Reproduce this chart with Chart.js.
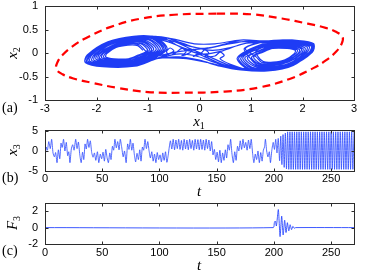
<!DOCTYPE html>
<html><head><meta charset="utf-8">
<script src="https://cdn.jsdelivr.net/npm/chart.js@4.4.1/dist/chart.umd.min.js"></script>
<style>
html,body{margin:0;padding:0;background:#fff;}
#wrap{position:relative;width:374px;height:272px;overflow:hidden;background:#fff;}
canvas{position:absolute;left:0;top:0;}
.lbl{position:absolute;font-family:'Liberation Serif','DejaVu Serif',serif;font-size:15px;line-height:1;color:#000;white-space:nowrap;transform:translate(-50%,-50%);}
.lbl i{font-style:italic;}
.lbl sub{font-size:10px;font-style:normal;vertical-align:-3px;line-height:0;}
.rot{transform:translate(-50%,-50%) rotate(-90deg);}
.pan{position:absolute;font-family:'Liberation Serif','DejaVu Serif',serif;font-size:14px;line-height:1;color:#000;transform:translateY(-50%);}
</style></head><body>
<div id="wrap">
<canvas id="ca" width="374" height="272"></canvas>
<canvas id="cb" width="374" height="272"></canvas>
<canvas id="cc" width="374" height="272"></canvas>
<div class="lbl" style="left:199px;top:121px"><i>x</i><sub>1</sub></div>
<div class="lbl rot" style="left:12px;top:53px"><i>x</i><sub>2</sub></div>
<div class="pan" style="left:2px;top:108px">(a)</div>
<div class="lbl rot" style="left:12px;top:150px"><i>x</i><sub>3</sub></div>
<div class="lbl" style="left:199px;top:191px"><i>t</i></div>
<div class="pan" style="left:2px;top:178px">(b)</div>
<div class="lbl rot" style="left:12px;top:223px"><i>F</i><sub>3</sub></div>
<div class="lbl" style="left:199px;top:265px"><i>t</i></div>
<div class="pan" style="left:2px;top:251px">(c)</div>
</div>
<script>
// ---------- data ----------
const xTicksA = [-3,-2,-1,0,1,2,3];
const yTicksA = [-1,-0.5,0,0.5,1];
const xTicksT = [0,50,100,150,200,250];
const yTicksB = [-5,0,5];
const yTicksC = [-2,0,2];

// phase portrait (x1, x2) trajectory
const x1x2Path = [
[-1.10,0.06],[-1.20,0.16],[-1.39,0.17],[-1.62,0.12],[-1.80,-0.01],[-1.82,-0.08],[-1.66,-0.12],[-1.38,-0.12],[-1.19,-0.04],
[-1.01,0.06],[-1.14,0.20],[-1.37,0.21],[-1.65,0.14],[-1.87,-0.01],[-1.90,-0.10],[-1.70,-0.15],[-1.36,-0.15],[-1.12,-0.06],
[-0.93,0.07],[-1.08,0.23],[-1.35,0.24],[-1.68,0.16],[-1.94,-0.02],[-1.97,-0.12],[-1.74,-0.18],[-1.34,-0.18],[-1.06,-0.07],
[-0.84,0.08],[-1.02,0.26],[-1.33,0.28],[-1.71,0.19],[-2.01,-0.03],[-2.05,-0.15],[-1.78,-0.21],[-1.32,-0.21],[-0.99,-0.09],
[-0.76,0.09],[-0.95,0.29],[-1.31,0.31],[-1.74,0.21],[-2.08,-0.03],[-2.13,-0.17],[-1.82,-0.24],[-1.29,-0.24],[-0.93,-0.10],
[-0.69,0.09],[-0.90,0.32],[-1.29,0.34],[-1.76,0.22],[-2.13,-0.04],[-2.19,-0.19],[-1.85,-0.27],[-1.28,-0.26],[-0.88,-0.11],
[-0.63,0.10],[-0.86,0.34],[-1.28,0.36],[-1.78,0.24],[-2.18,-0.04],[-2.22,-0.20],[-1.88,-0.29],[-1.26,-0.28],[-0.83,-0.12],
[-0.45,-0.02],[-0.10,-0.05],[0.30,-0.20],[0.62,-0.32],
[0.90,-0.36],[1.32,-0.38],[1.82,-0.26],[2.17,0.04],[2.22,0.20],[1.92,0.27],[1.30,0.26],[0.87,0.10],
[0.97,-0.09],[1.12,-0.25],[1.39,-0.26],[1.72,-0.18],[1.98,0.00],[2.01,0.10],[1.78,0.16],[1.38,0.16],[1.10,0.05],
[1.14,-0.08],[1.24,-0.18],[1.43,-0.19],[1.66,-0.14],[1.84,-0.01],[1.86,0.06],[1.70,0.10],[1.42,0.10],[1.23,0.02],
[1.05,-0.08],[1.18,-0.22],[1.41,-0.23],[1.69,-0.16],[1.91,-0.01],[1.94,0.08],[1.74,0.13],[1.40,0.13],[1.16,0.04],
[0.88,-0.10],[1.06,-0.28],[1.37,-0.30],[1.75,-0.21],[2.05,0.01],[2.09,0.13],[1.82,0.19],[1.36,0.19],[1.03,0.07],
[0.80,-0.11],[0.99,-0.31],[1.35,-0.33],[1.78,-0.23],[2.12,0.01],[2.17,0.15],[1.86,0.22],[1.33,0.22],[0.97,0.08],
[0.73,-0.11],[0.94,-0.34],[1.33,-0.36],[1.80,-0.24],[2.17,0.02],[2.21,0.17],[1.89,0.25],[1.32,0.24],
[0.90,0.25],[0.50,0.18],[0.10,0.10],[-0.30,0.18],[-0.60,0.32],
[-0.90,0.32],[-1.29,0.34],[-1.76,0.22],[-2.13,-0.04],[-2.19,-0.19],[-1.85,-0.27],[-1.28,-0.26],[-0.88,-0.11],
[-1.06,0.06],[-1.17,0.18],[-1.38,0.19],[-1.63,0.13],[-1.83,-0.01],[-1.86,-0.09],[-1.68,-0.14],[-1.37,-0.13],[-1.16,-0.05],
[-0.97,0.07],[-1.11,0.21],[-1.36,0.22],[-1.66,0.15],[-1.90,-0.02],[-1.94,-0.11],[-1.72,-0.17],[-1.35,-0.16],[-1.09,-0.06],
[-0.89,0.08],[-1.05,0.24],[-1.34,0.26],[-1.69,0.17],[-1.97,-0.02],[-2.01,-0.13],[-1.76,-0.20],[-1.33,-0.19],[-1.03,-0.08],
[-0.80,0.08],[-0.98,0.28],[-1.32,0.29],[-1.72,0.20],[-2.04,-0.03],[-2.09,-0.16],[-1.80,-0.23],[-1.30,-0.22],[-0.96,-0.09],
[-0.72,0.09],[-0.92,0.31],[-1.30,0.33],[-1.75,0.22],[-2.11,-0.03],[-2.16,-0.18],[-1.84,-0.26],[-1.28,-0.25],[-0.90,-0.11],
[-0.66,0.10],[-0.88,0.33],[-1.29,0.35],[-1.77,0.23],[-2.16,-0.04],[-2.22,-0.19],[-1.87,-0.28],[-1.27,-0.27],[-0.85,-0.12],
[-0.50,0.04],[-0.57,0.11],[-0.64,0.03],[-0.57,-0.05],[-0.45,0.02],[-0.34,0.10],[-0.26,0.03],[-0.34,-0.05],[-0.20,0.00],[-0.12,0.08],[-0.04,0.00],[-0.12,-0.07],[0.02,-0.01],[0.10,0.07],[0.18,0.00],[0.10,-0.08],[0.30,-0.06],[0.40,0.02],[0.48,-0.05],[0.40,-0.12],[0.60,-0.24],
[0.92,-0.35],[1.33,-0.37],[1.81,-0.25],[2.19,0.02],[2.22,0.18],[1.91,0.26],[1.31,0.25],[0.89,0.10],
[1.10,-0.08],[1.21,-0.20],[1.42,-0.21],[1.67,-0.15],[1.87,-0.01],[1.90,0.07],[1.72,0.12],[1.41,0.11],[1.20,0.03],
[1.01,-0.09],[1.15,-0.23],[1.40,-0.24],[1.70,-0.17],[1.94,0.00],[1.98,0.09],[1.76,0.15],[1.39,0.14],[1.13,0.04],
[0.93,-0.10],[1.09,-0.26],[1.38,-0.28],[1.73,-0.19],[2.01,0.00],[2.05,0.11],[1.80,0.18],[1.37,0.17],[1.07,0.06],
[0.84,-0.10],[1.02,-0.30],[1.36,-0.31],[1.76,-0.22],[2.08,0.01],[2.13,0.14],[1.84,0.21],[1.34,0.20],[1.00,0.07],
[0.76,-0.11],[0.96,-0.33],[1.34,-0.35],[1.79,-0.24],[2.15,0.01],[2.19,0.16],[1.88,0.24],[1.32,0.23],
[0.85,0.20],[0.45,0.05],[0.05,-0.02],[-0.35,0.12],[-0.65,0.30],
[-0.86,0.34],[-1.28,0.36],[-1.78,0.24],[-2.18,-0.04],[-2.22,-0.20],[-1.88,-0.29],[-1.26,-0.28],[-0.83,-0.12],
[-0.40,-0.08],[0.00,-0.15],[0.40,-0.28],[0.80,-0.36],
[1.32,-0.38],[1.82,-0.26],[2.17,0.04],[2.22,0.20],[1.92,0.27],[1.30,0.26],
[0.80,0.28],[0.30,0.20],[-0.10,0.20],[-0.50,0.30],[-0.86,0.36],
[-1.31,0.31],[-1.74,0.21],[-2.08,-0.03],[-2.13,-0.17],[-1.82,-0.24],[-1.29,-0.24],[-0.93,-0.10],
[-0.55,0.00],[-0.20,0.05],[0.15,-0.10],[0.50,-0.26],[0.85,-0.33],
[1.35,-0.33],[1.78,-0.23],[2.12,0.01],[2.17,0.15],[1.86,0.22],[1.33,0.22],
[0.95,0.22],[0.60,0.12],[0.25,0.06],[-0.15,0.14],[-0.45,0.26],[-0.75,0.35],
[-1.30,0.33],[-1.75,0.22],[-2.11,-0.03],[-2.16,-0.18],[-1.84,-0.26],[-1.28,-0.25],[-0.90,-0.11],
[-0.60,-0.10],[-0.25,-0.12],[0.15,-0.20],[0.55,-0.30],[0.92,-0.35],
[1.33,-0.36],[1.80,-0.24],[2.17,0.02],[2.21,0.17],[1.89,0.25],[1.32,0.24],
[0.70,0.24],[0.20,0.12],[-0.20,0.08],[-0.55,0.22],[-0.88,0.33],
[-0.50,0.25],[-0.15,0.08],[0.20,-0.08],[0.55,-0.25],[0.90,-0.36],
[1.32,-0.38],[1.82,-0.26],[2.17,0.04],[2.22,0.20],[1.92,0.27],[1.30,0.26]
];

// red dashed boundary curve
const ellX = [0.34,1.00,1.60,2.10,2.45,2.66,2.78,2.76,2.66,2.46,2.21,1.75,1.17,0.49,-0.34,-1.00,-1.60,-2.10,-2.45,-2.66,-2.78,-2.76,-2.66,-2.46,-2.21,-1.75,-1.17,-0.49,0.34];
const ellY = [0.845,0.83,0.74,0.63,0.54,0.45,0.34,0.20,0.04,-0.15,-0.32,-0.55,-0.73,-0.82,-0.845,-0.83,-0.74,-0.63,-0.54,-0.45,-0.34,-0.20,-0.04,0.15,0.32,0.55,0.73,0.82,0.845];

// x3(t) turning points
const x3T = [0,1.0,2.1,3.3,4.6,5.8,7.0,
8.2,9.3,10.5,11.7,12.9,
14.0,15.0,16.2,17.4,18.6,
19.8,20.8,21.8,23.0,
24.2,25.4,26.8,28.0,29.2,
30.4,31.6,32.8,33.9,
35.0,36.1,37.2,38.4,39.6,40.8,
42.0,43.2,44.4,45.8,47.0,48.3,49.5,50.7,51.9,53.1,54.3,55.4,56.6,57.7,
58.9,60.0,61.1,62.3,63.5,64.7,65.8,67.0,
68.3,69.5,70.9,
72.2,73.4,74.6,75.8,76.9,
78.1,79.2,80.4,81.6,82.8,83.9,
85.1,86.2,87.4,88.6,89.8,90.9,
92.1,93.3,94.5,95.7,96.9,98.1,99.3,100.5,101.7,102.9,104.1,105.3,106.5,107.7,
108.6,109.6,110.8,112.0,113.2,114.4,115.6,116.8,118.0,119.2,120.4,121.6,122.8,124.0,125.2,126.4,127.6,128.8,130.0,131.2,132.4,133.6,134.8,136.0,137.2,138.4,139.6,140.8,142.0,143.2,144.4,145.6,
146.8,148.0,149.2,150.4,151.6,152.8,154.0,155.2,156.4,157.6,158.7,
159.9,161.1,162.2,
163.4,164.6,165.8,167.0,
168.2,169.4,170.6,171.8,173.0,174.2,175.4,176.6,177.8,179.0,180.2,
181.4,182.5,183.7,184.9,186.1,187.3,188.5,189.7,190.8,
191.8,192.6,193.7,
194.8,196.0,197.0,198.2,
199.4,200.5,201.6,202.7,203.8,
205,206,207,208,209,210,211,
212,213,214,215,216,217,218,219,220,221,222,223,224,225,226,227,228,229,230,231,232,233,234,235,236,237,238,239,240,241,
242,243,244,245,246,247,248,249,250,251,252,253,254,255,256,257,258,259,260,261,262,263,264,265,266,267,268,269,270];
const x3V = [-2.5,1.0,0.2,2.4,0.6,3.0,-0.5,
-1.5,-0.4,-3.0,0.3,-2.0,
2.0,0.9,3.0,0.0,2.2,
-1.2,-0.2,-3.0,0.5,
1.6,0.2,3.0,0.6,2.3,
-1.0,-3.0,-0.3,-2.2,
1.8,0.5,3.0,0.9,2.6,-0.4,
-1.6,-0.5,-2.4,-0.2,-3.0,-0.8,-2.0,-0.3,-2.6,0.4,-1.8,-3.0,-0.5,-2.2,
1.2,0.2,3.0,0.8,2.4,0.3,3.0,1.0,
-1.5,0.0,-3.0,
1.8,0.4,3.0,0.2,2.0,
-1.0,-2.8,-0.6,-2.2,0.3,-2.6,
1.0,0.2,3.0,0.6,2.4,0.1,
-1.8,-0.2,-2.6,-0.8,-3.0,-0.4,-2.2,-1.0,-2.8,-0.5,-2.4,-0.2,-2.9,-1.0,
1.0,2.6,0.5,3.0,0.3,2.8,0.6,3.0,0.4,2.7,0.2,3.0,0.5,2.8,0.3,3.0,0.6,2.7,0.2,3.0,0.5,2.9,0.3,3.0,0.4,2.8,0.2,3.0,0.6,2.8,0.0,2.4,
-1.0,0.4,-2.2,-0.3,-2.8,0.2,-3.0,-0.5,-2.4,0.3,-1.8,
1.6,0.2,3.0,
-0.8,-3.0,-0.2,-2.4,
1.2,0.0,2.6,0.4,3.0,0.8,2.2,0.2,2.8,0.6,3.0,
-0.6,-3.0,-0.8,-2.2,0.0,-3.0,-0.4,-2.6,0.2,
1.0,3.0,0.0,
-1.5,-0.2,-3.0,0.2,
2.2,0.4,3.0,-0.5,3.2,
-2.5,3.8,-3.5,4.2,-4.2,4.6,-4.6,
4.9,-4.7,4.9,-4.7,4.9,-4.7,4.9,-4.7,4.9,-4.7,4.9,-4.7,4.9,-4.7,4.9,-4.7,4.9,-4.7,4.9,-4.7,4.9,-4.7,4.9,-4.7,4.9,-4.7,4.9,-4.7,4.9,-4.7,
4.9,-4.7,4.9,-4.7,4.9,-4.7,4.9,-4.7,4.9,-4.7,4.9,-4.7,4.9,-4.7,4.9,-4.7,4.9,-4.7,4.9,-4.7,4.9,-4.7,4.9,-4.7,4.9,-4.7,4.9,-4.7,4.9];

// F3(t)
const f3T = [0,199.5,200.4,201.2,202.2,203.9,205.4,206.8,208.1,209.4,210.6,211.8,213.0,214.2,215.4,216.6,217.8,219,270];
const f3V = [0,0,0.6,0.8,0.2,2.2,-1.1,1.4,-0.9,0.9,-0.6,0.6,-0.4,0.35,-0.25,0.15,-0.08,0,0];

// ---------- drawing ----------
const tickFont = {family:"'Liberation Sans', Arial, sans-serif", size:11};
const frameColor = '#2b2b2b';

const framePlugin = {
  id:'frame',
  afterDraw(chart){
    const ctx = chart.ctx, a = chart.chartArea, xs = chart.scales.x, ys = chart.scales.y;
    const L = Math.round(a.left)+0.5, R = Math.round(a.right)+0.5, T = Math.round(a.top)+0.5, B = Math.round(a.bottom)+0.5;
    ctx.save();
    ctx.strokeStyle = frameColor; ctx.lineWidth = 1;
    ctx.beginPath();
    xs.ticks.forEach(t => {
      const p = Math.round(xs.getPixelForValue(t.value))+0.5;
      ctx.moveTo(p,B); ctx.lineTo(p,B-3);
      ctx.moveTo(p,T); ctx.lineTo(p,T+3);
    });
    ys.ticks.forEach(t => {
      const p = Math.round(ys.getPixelForValue(t.value))+0.5;
      ctx.moveTo(L,p); ctx.lineTo(L+3,p);
      ctx.moveTo(R,p); ctx.lineTo(R-3,p);
    });
    ctx.stroke();
    ctx.strokeRect(L, T, R-L, B-T);
    ctx.restore();
  }
};

function axis(min, max, ticks, horizontal){
  return {
    type:'linear', min, max,
    afterBuildTicks: s => { s.ticks = ticks.map(v => ({value:v})); },
    afterFit: s => {
      if (horizontal) s.height = 20; else s.width = 45;
      s.paddingTop = 0; s.paddingBottom = 0; s.paddingLeft = 0; s.paddingRight = 0;
    },
    grid:{display:false, drawTicks:false},
    border:{display:false},
    ticks:{padding: horizontal ? 2 : 7, color:'#000', font:tickFont, maxRotation:0, autoSkip:false,
           callback: v => String(v)}
  };
}

function makeChart(id, datasets, xr, xt, yr, yt, top, bottom){
  return new Chart(document.getElementById(id), {
    type:'scatter',
    data:{datasets},
    options:{
      responsive:false, animation:false, devicePixelRatio:1,
      layout:{padding:{left:0, right:20, top:top, bottom:272-bottom-20}},
      plugins:{legend:{display:false}, tooltip:{enabled:false}},
      elements:{point:{radius:0}},
      scales:{ x: axis(xr[0], xr[1], xt, true), y: axis(yr[0], yr[1], yt, false) }
    },
    plugins:[framePlugin]
  });
}

makeChart('ca', [
  {data: x1x2Path.map(p => ({x:p[0], y:p[1]})), showLine:true, borderColor:'rgb(30,60,245)', borderWidth:1.2, pointRadius:0, tension:0.3},
  {data: ellX.map((x,i) => ({x, y:ellY[i]})), showLine:true, borderColor:'#ff0000', borderWidth:2.2, borderDash:[8,5], pointRadius:0, tension:0.4}
], [-3,3], xTicksA, [-1,1], yTicksA, 6.3, 100);

makeChart('cb', [
  {data: x3T.map((t,i) => ({x:t, y:x3V[i]})), showLine:true, borderColor:'rgb(40,70,255)', borderWidth:0.8, pointRadius:0, tension:0.2}
], [0,270], xTicksT, [-5,5.5], yTicksB, 129.5, 170.5);

makeChart('cc', [
  {data: f3T.map((t,i) => ({x:t, y:f3V[i]})), showLine:true, borderColor:'rgb(40,70,255)', borderWidth:0.9, pointRadius:0, tension:0.2}
], [0,270], xTicksT, [-2,3], yTicksC, 203, 244);
</script>
</body></html>
